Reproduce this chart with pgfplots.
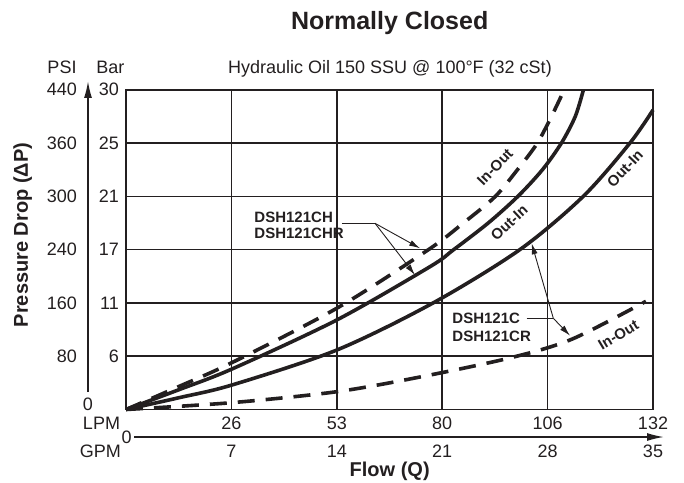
\documentclass[border=0pt]{standalone}
\usepackage{fontspec}
\setmainfont{Liberation Sans}
\usepackage{pgfplots}
\pgfplotsset{compat=1.18}
\usetikzlibrary{arrows.meta}
\definecolor{ink}{RGB}{35,31,32}

\begin{document}
\begin{tikzpicture}[x=1pt,y=1pt]
\path[use as bounding box] (0,0) rectangle (684,482);
\begin{axis}[
  at={(126pt,72.5pt)}, anchor=south west,
  scale only axis, width=527pt, height=319.8pt,
  xmin=0, xmax=35, ymin=0, ymax=6,
  xtick={7,14,21,28,35}, xticklabels={26,53,80,106,132},
  ytick={1,2,3,4,5,6}, yticklabels={6,11,17,21,25,30},
  grid=major, major grid style={line width=1.6pt, ink},
  axis line style={line width=1.8pt, ink},
  major tick length=0pt,
  tick label style={font=\fontsize{18}{20}\selectfont, text=ink, inner sep=0pt},
  xticklabel style={anchor=center, yshift=-13.8pt},
  yticklabel style={anchor=east, xshift=-7pt},
  clip=false,
]
% DSH121CH / CHR, In-Out
\addplot[ink, line width=3.6pt, smooth, dash pattern=on 17pt off 11pt] coordinates {
  (0,0) (3.5,0.43) (7.04,0.88) (14.0,1.9) (20.04,2.99) (22.41,3.5) (24.5,3.99)
  (26.0,4.5) (27.3,4.99) (28.26,5.5) (29.04,5.96)
};
% DSH121CH / CHR, Out-In
\addplot[ink, line width=3.6pt, smooth] coordinates {
  (0,0) (3.5,0.37) (7.04,0.76) (14.0,1.68) (20.19,2.68) (21.72,2.99) (24.06,3.5)
  (26.03,4.0) (27.66,4.5) (28.92,5.0) (29.84,5.5) (30.38,6.0)
};
% DSH121C / CR, Out-In
\addplot[ink, line width=3.6pt, smooth] coordinates {
  (0,0) (3.5,0.22) (7.04,0.46) (14.0,1.116) (20.4,2.0) (26.16,3.0) (30.37,4.0) (33.47,5.0) (35.0,5.62)
};
% DSH121C / CR, In-Out
\addplot[ink, line width=3.6pt, smooth, dash pattern=on 17pt off 11pt] coordinates {
  (0,0) (7.1,0.13) (14.0,0.334) (19.53,0.61) (25.5,0.968) (29.62,1.32) (34.53,2.03)
};

% PSI scale and GPM scale
\begin{scope}[every node/.style={font=\fontsize{18}{20}\selectfont, text=ink, inner sep=0pt}]
\node[anchor=east, xshift=-49pt] at (axis cs:0,1) {80};
\node[anchor=east, xshift=-49pt] at (axis cs:0,2) {160};
\node[anchor=east, xshift=-49pt] at (axis cs:0,3) {240};
\node[anchor=east, xshift=-49pt] at (axis cs:0,4) {300};
\node[anchor=east, xshift=-49pt] at (axis cs:0,5) {360};
\node[anchor=east, xshift=-49pt] at (axis cs:0,6) {440};
\node[yshift=-42.2pt] at (axis cs:7,0) {7};
\node[yshift=-42.2pt] at (axis cs:14,0) {14};
\node[yshift=-42.2pt] at (axis cs:21,0) {21};
\node[yshift=-42.2pt] at (axis cs:28,0) {28};
\node[yshift=-42.2pt] at (axis cs:35,0) {35};
\end{scope}

% annotations
\begin{scope}[every node/.style={font=\fontsize{15}{16}\selectfont\bfseries, text=ink, inner sep=0pt}]
\node[anchor=base west] at (axis cs:8.52,3.512) {DSH121CH};
\node[anchor=base west] at (axis cs:8.52,3.199) {DSH121CHR};
\node[anchor=base west] at (axis cs:21.67,1.617) {DSH121C};
\node[anchor=base west] at (axis cs:21.67,1.285) {DSH121CR};
\node[rotate=46] at (axis cs:24.5,4.55) {In-Out};
\node[rotate=43] at (axis cs:25.45,3.50) {Out-In};
\node[rotate=46] at (axis cs:33.14,4.52) {Out-In};
\node[rotate=31] at (axis cs:32.7,1.40) {In-Out};
\end{scope}
\draw[ink, line width=0.9pt] (axis cs:14.33,3.493) -- (axis cs:16.54,3.493);
\draw[ink, line width=0.9pt, -{Latex[length=11pt,width=6pt]}] (axis cs:16.54,3.493) -- (axis cs:19.53,3.024);
\draw[ink, line width=0.9pt, -{Latex[length=11pt,width=6pt]}] (axis cs:16.54,3.493) -- (axis cs:19.19,2.524);
\draw[ink, line width=0.9pt] (axis cs:26.61,1.711) -- (axis cs:28.38,1.711);
\draw[ink, line width=0.9pt, -{Latex[length=11pt,width=6pt]}] (axis cs:28.38,1.711) -- (axis cs:26.94,3.118);
\draw[ink, line width=0.9pt, -{Latex[length=11pt,width=6pt]}] (axis cs:28.38,1.711) -- (axis cs:29.49,1.385);
\end{axis}

% titles and outer scales
\node[anchor=base, font=\fontsize{25}{28}\selectfont\bfseries, text=ink, inner sep=0pt] at (389.7,452.7) {Normally Closed};
\begin{scope}[every node/.style={font=\fontsize{18}{20}\selectfont, text=ink, inner sep=0pt}]
\node[anchor=base] at (390,408.7) {Hydraulic Oil 150 SSU @ 100°F (32 cSt)};
\node[anchor=base] at (62,408.7) {PSI};
\node[anchor=base] at (110.3,408.7) {Bar};
\node at (88,78) {0};
\node at (101.5,58.7) {LPM};
\node at (100.4,30.3) {GPM};
\node at (126.6,44.7) {0};
\end{scope}
\node[anchor=base, font=\fontsize{20}{22}\selectfont\bfseries, text=ink, inner sep=0pt] at (389.7,6) {Flow (Q)};
\node[anchor=base, rotate=90, font=\fontsize{20}{22}\selectfont\bfseries, text=ink, inner sep=0pt] at (28,247) {Pressure Drop (ΔP)};
\draw[ink, line width=1.6pt, -{Latex[length=17pt,width=8pt]}] (88,90) -- (88,401);
\draw[ink, line width=1.6pt, -{Latex[length=17pt,width=8pt]}] (134,45) -- (664,45);
\end{tikzpicture}
\end{document}
